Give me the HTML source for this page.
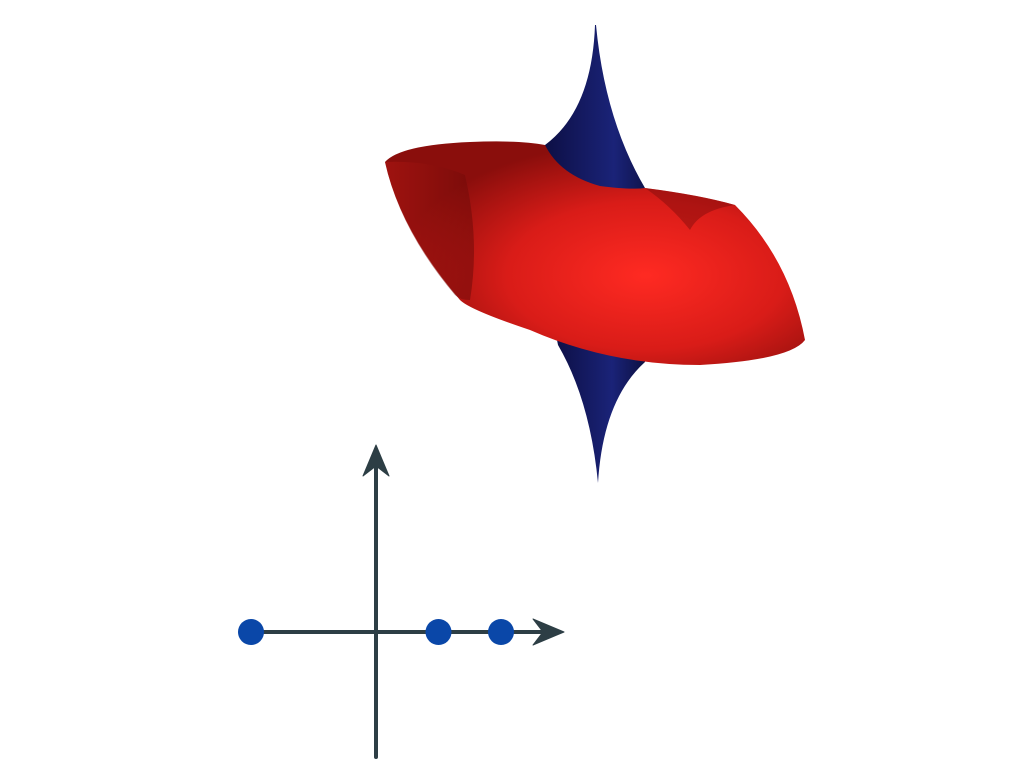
<!DOCTYPE html>
<html><head><meta charset="utf-8"><style>
html,body{margin:0;padding:0;background:#fff;width:1024px;height:768px;overflow:hidden}
</style></head><body>
<svg id="fig" width="1024" height="768" viewBox="0 0 1024 768" xmlns="http://www.w3.org/2000/svg">
<defs>
<radialGradient id="redg" cx="0.62" cy="0.6" r="0.6">
<stop offset="0" stop-color="#ff2a22"/><stop offset="0.55" stop-color="#d91c18"/><stop offset="1" stop-color="#8a0e0c"/>
</radialGradient>
<linearGradient id="blueg" x1="0" y1="0" x2="1" y2="0">
<stop offset="0" stop-color="#0d0f45"/><stop offset="0.6" stop-color="#1a2378"/><stop offset="1" stop-color="#0b0d3a"/>
</linearGradient>
<linearGradient id="leftred" x1="0" y1="0" x2="1" y2="0">
<stop offset="0" stop-color="#b01612"/><stop offset="1" stop-color="#6e0a08"/>
</linearGradient>
</defs>
<g>
<path fill="url(#blueg)" d="M595,25 Q592,110 545,145 L545,200 L660,205 L645,188 Q605,120 596,25 Z"/>
<path fill="url(#blueg)" d="M555,330 L650,330 L645,362 Q603,400 598,483 Q590,400 558,345 Z"/>
<path fill="url(#redg)" d="M385,162 Q400,145 470,142 Q520,140 545,145 Q560,175 600,186 Q630,190 645,188 Q700,195 735,205 Q790,260 805,340 Q790,360 700,365 Q610,365 530,330 Q470,310 460,300 Q400,230 385,162 Z"/>
<path fill="url(#leftred)" opacity="0.55" d="M385,162 Q430,160 465,175 Q480,240 470,300 Q460,300 455,295 Q400,230 385,162 Z"/>
<path fill="#7a0c0a" opacity="0.45" d="M645,188 Q700,195 735,205 Q700,210 690,230 Q670,205 645,188 Z"/>
</g>
<g id="axes" stroke="#2d3e45" stroke-width="4" fill="none" stroke-linecap="round">
<line x1="376" y1="757" x2="376" y2="455"/>
<path d="M376,445 L389,476 L376,466 L363,476 Z" fill="#2d3e45" stroke-width="1" stroke-linejoin="round"/>
<line x1="251" y1="632" x2="552" y2="632"/>
<path d="M564,632 L533,619 L543,632 L533,645 Z" fill="#2d3e45" stroke-width="1" stroke-linejoin="round"/>
</g>
<g id="pts"></g>
</svg>
<script>
const pointsX = [-2, 1, 2];
const pointsY = [0, 0, 0];
const originX = 376, originY = 632, unit = 62.5;
function sx(v){return originX + v*unit;}
function sy(v){return originY - v*unit;}
const g = document.getElementById('pts');
for (let i=0;i<pointsX.length;i++){
  const c = document.createElementNS('http://www.w3.org/2000/svg','circle');
  c.setAttribute('cx', sx(pointsX[i]));
  c.setAttribute('cy', sy(pointsY[i]));
  c.setAttribute('r', 13);
  c.setAttribute('fill', '#0a47a8');
  
  
  g.appendChild(c);
}
</script>
</body></html>
